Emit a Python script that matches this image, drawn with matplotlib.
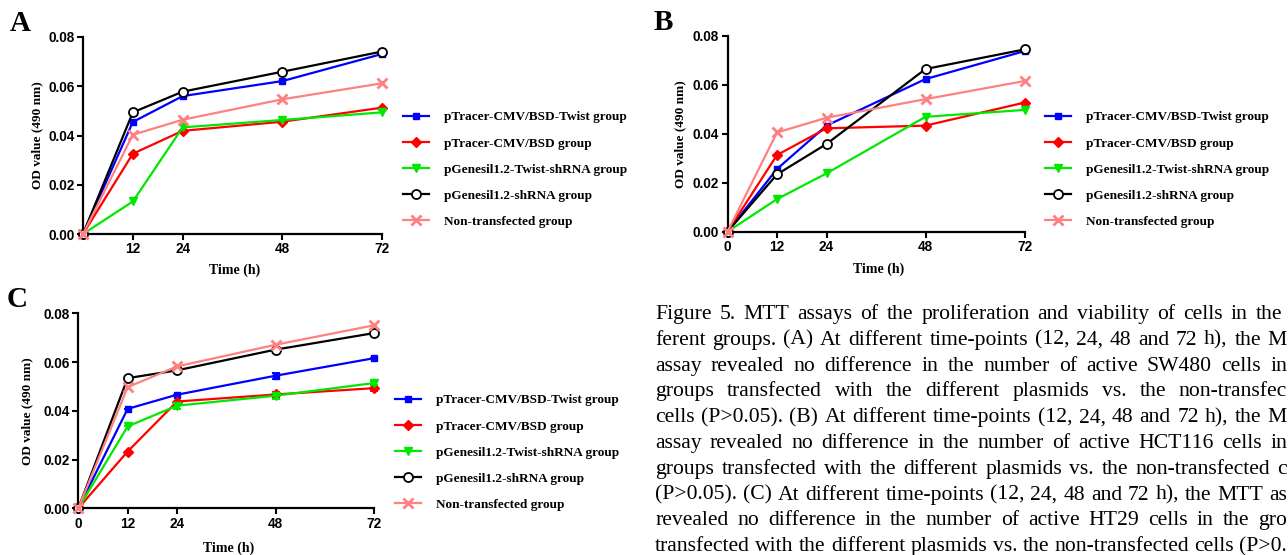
import matplotlib
matplotlib.use("Agg")
import matplotlib.pyplot as plt
from matplotlib.ticker import FormatStrFormatter

W, H = 1288, 555

# ---------------- data ----------------
times = [0, 12, 24, 48, 72]
groups = ["pTracer-CMV/BSD-Twist group", "pTracer-CMV/BSD group",
          "pGenesil1.2-Twist-shRNA group", "pGenesil1.2-shRNA group",
          "Non-transfected group"]

twist_A = [0, 0.0455, 0.0560, 0.0621, 0.0731]
bsd_A = [0, 0.0326, 0.0419, 0.0456, 0.0513]
shtwist_A = [0, 0.0132, 0.0433, 0.0463, 0.0494]
shrna_A = [0, 0.0494, 0.0578, 0.0659, 0.0741]
non_A = [0, 0.0403, 0.0464, 0.0547, 0.0612]

twist_B = [0, 0.0256, 0.0433, 0.0623, 0.0737]
bsd_B = [0, 0.0313, 0.0422, 0.0433, 0.0527]
shtwist_B = [0, 0.0133, 0.0238, 0.0469, 0.0497]
shrna_B = [0, 0.0234, 0.0358, 0.0664, 0.0744]
non_B = [0, 0.0405, 0.0465, 0.0541, 0.0615]

twist_C = [0, 0.0408, 0.0466, 0.0544, 0.0616]
bsd_C = [0, 0.0233, 0.0438, 0.0467, 0.0493]
shtwist_C = [0, 0.0336, 0.0421, 0.0462, 0.0514]
shrna_C = [0, 0.0534, 0.0566, 0.0651, 0.0719]
non_C = [0, 0.0497, 0.0582, 0.0671, 0.0751]
err_twist_C = [0, 0, 0, 0.0012, 0]
err_bsd_C = [0, 0, 0, 0.0010, 0.0013]
err_shtwist_C = [0, 0, 0.0012, 0.0012, 0.0008]

yticks = [0.00, 0.02, 0.04, 0.06, 0.08]
xticks_A = [12, 24, 48, 72]
xticks_BC = [0, 12, 24, 48, 72]

# caption as visible in the (cropped) reference
caption_lines = [
    "Figure 5. MTT assays of the proliferation and viability of cells in the",
    "ferent groups. (A) At different time-points (12, 24, 48 and 72 h), the M",
    "assay revealed no difference in the number of active SW480 cells in",
    "groups transfected with the different plasmids vs. the non-transfec",
    "cells (P>0.05). (B) At different time-points (12, 24, 48 and 72 h), the M",
    "assay revealed no difference in the number of active HCT116 cells in",
    "groups transfected with the different plasmids vs. the non-transfected c",
    "(P>0.05). (C) At different time-points (12, 24, 48 and 72 h), the MTT as",
    "revealed no difference in the number of active HT29 cells in the gro",
    "transfected with the different plasmids vs. the non-transfected cells (P>0.",
]
caption_right = [1282, 1287, 1287, 1287, 1287, 1287, 1287, 1287, 1287, 1287]

# ---------------- styles ----------------
styles = [
    dict(color="#0000ff", marker="s", ms=5, mfc="#0000ff", mec="#0000ff", mew=1),
    dict(color="#ff0000", marker="D", ms=5, mfc="#ff0000", mec="#ff0000", mew=1),
    dict(color="#00e800", marker="v", ms=6, mfc="#00e800", mec="#00e800", mew=1),
    dict(color="#000000", marker="o", ms=6.5, mfc="white", mec="#000000", mew=1.3),
    dict(color="#ff8080", marker="x", ms=7, mfc="#ff8080", mec="#ff8080", mew=2),
]

SANS = "Liberation Sans"
SERIF = "Liberation Serif"

fig = plt.figure(figsize=(W / 100, H / 100), dpi=100)


def px_axes(left, right, top, bottom):
    return fig.add_axes([left / W, 1 - bottom / H, (right - left) / W, (bottom - top) / H])


def style_axes(ax, xticks, ylab_x, xlab_y):
    ax.set_xlim(0, 72)
    ax.set_ylim(0, 0.08)
    for s in ["top", "right"]:
        ax.spines[s].set_visible(False)
    for s in ["left", "bottom"]:
        ax.spines[s].set_linewidth(1.6)
    ax.set_xticks(xticks)
    ax.set_yticks(yticks)
    ax.yaxis.set_major_formatter(FormatStrFormatter("%.2f"))
    ax.tick_params(width=1.5, length=4.5, pad=1.5, labelsize=9.8)
    for lab in ax.get_xticklabels() + ax.get_yticklabels():
        lab.set_fontfamily(SANS)
        lab.set_fontweight("bold")
    ax.set_ylabel("OD value (490 nm)", family=SERIF, fontweight="bold", fontsize=9.5)
    ax.set_xlabel("Time (h)", family=SERIF, fontweight="bold", fontsize=10)
    ax.yaxis.set_label_coords(ylab_x, 0.5)
    ax.xaxis.set_label_coords(0.508, xlab_y)


def draw(ax, series, errs=None):
    handles = []
    for i, (vals, st) in enumerate(zip(series, styles)):
        (ln,) = ax.plot(times, vals, lw=1.6, clip_on=False, zorder=3 + i, **st)
        if errs is not None and errs[i] is not None:
            ax.errorbar(times, vals, yerr=errs[i], fmt="none", ecolor=st["color"],
                        elinewidth=1.4, capsize=3, capthick=1.4, clip_on=False,
                        zorder=3 + i)
        handles.append(ln)
    return handles


def add_legend(handles, x_left, y_center):
    fig.legend(handles, groups, loc="center left",
               bbox_to_anchor=(x_left / W, 1 - y_center / H),
               frameon=False, borderpad=0, borderaxespad=0,
               handlelength=2.0, handletextpad=1.1, labelspacing=1.05,
               prop=dict(family=SERIF, weight="bold", size=9.5))


# Panel A
axA = px_axes(83, 382, 37, 234)
hA = draw(axA, [twist_A, bsd_A, shtwist_A, shrna_A, non_A])
style_axes(axA, xticks_A, -0.134, -0.152)
add_legend(hA, 403, 169.5)
fig.text(10 / W, 1 - 31 / H, "A", family=SERIF, fontweight="bold", fontsize=21)

# Panel B
axB = px_axes(727.5, 1024.5, 35.7, 231.7)
hB = draw(axB, [twist_B, bsd_B, shtwist_B, shrna_B, non_B])
style_axes(axB, xticks_BC, -0.140, -0.155)
add_legend(hB, 1045, 169.5)
fig.text(654 / W, 1 - 30 / H, "B", family=SERIF, fontweight="bold", fontsize=21)

# Panel C
axC = px_axes(78.3, 374.3, 313.3, 508.3)
hC = draw(axC, [twist_C, bsd_C, shtwist_C, shrna_C, non_C],
          errs=[err_twist_C, err_bsd_C, err_shtwist_C, None, None])
style_axes(axC, xticks_BC, -0.151, -0.168)
add_legend(hC, 395, 452.5)
fig.text(7 / W, 1 - 307 / H, "C", family=SERIF, fontweight="bold", fontsize=21)

# Caption: justified lines (font size fitted so the last line has natural spacing)
renderer = fig.canvas.get_renderer()
x0 = 655
t = fig.text(0, 0, caption_lines[-1], family=SERIF, fontsize=10)
w10 = t.get_window_extent(renderer).width
t.remove()
cap_fs = 10 * (caption_right[-1] - x0) / w10

base0, step = 319, 25.8
for k, (line, xr) in enumerate(zip(caption_lines, caption_right)):
    words = line.split(" ")
    widths = []
    for w in words:
        t = fig.text(0, 0, w, family=SERIF, fontsize=cap_fs)
        widths.append(t.get_window_extent(renderer).width)
        t.remove()
    gap = (xr - x0 - sum(widths)) / (len(words) - 1)
    x = x0
    yb = base0 + k * step
    for w, wd in zip(words, widths):
        fig.text(x / W, 1 - yb / H, w, family=SERIF, fontsize=cap_fs, va="baseline")
        x += wd + gap

fig.savefig("out.png", dpi=100)
